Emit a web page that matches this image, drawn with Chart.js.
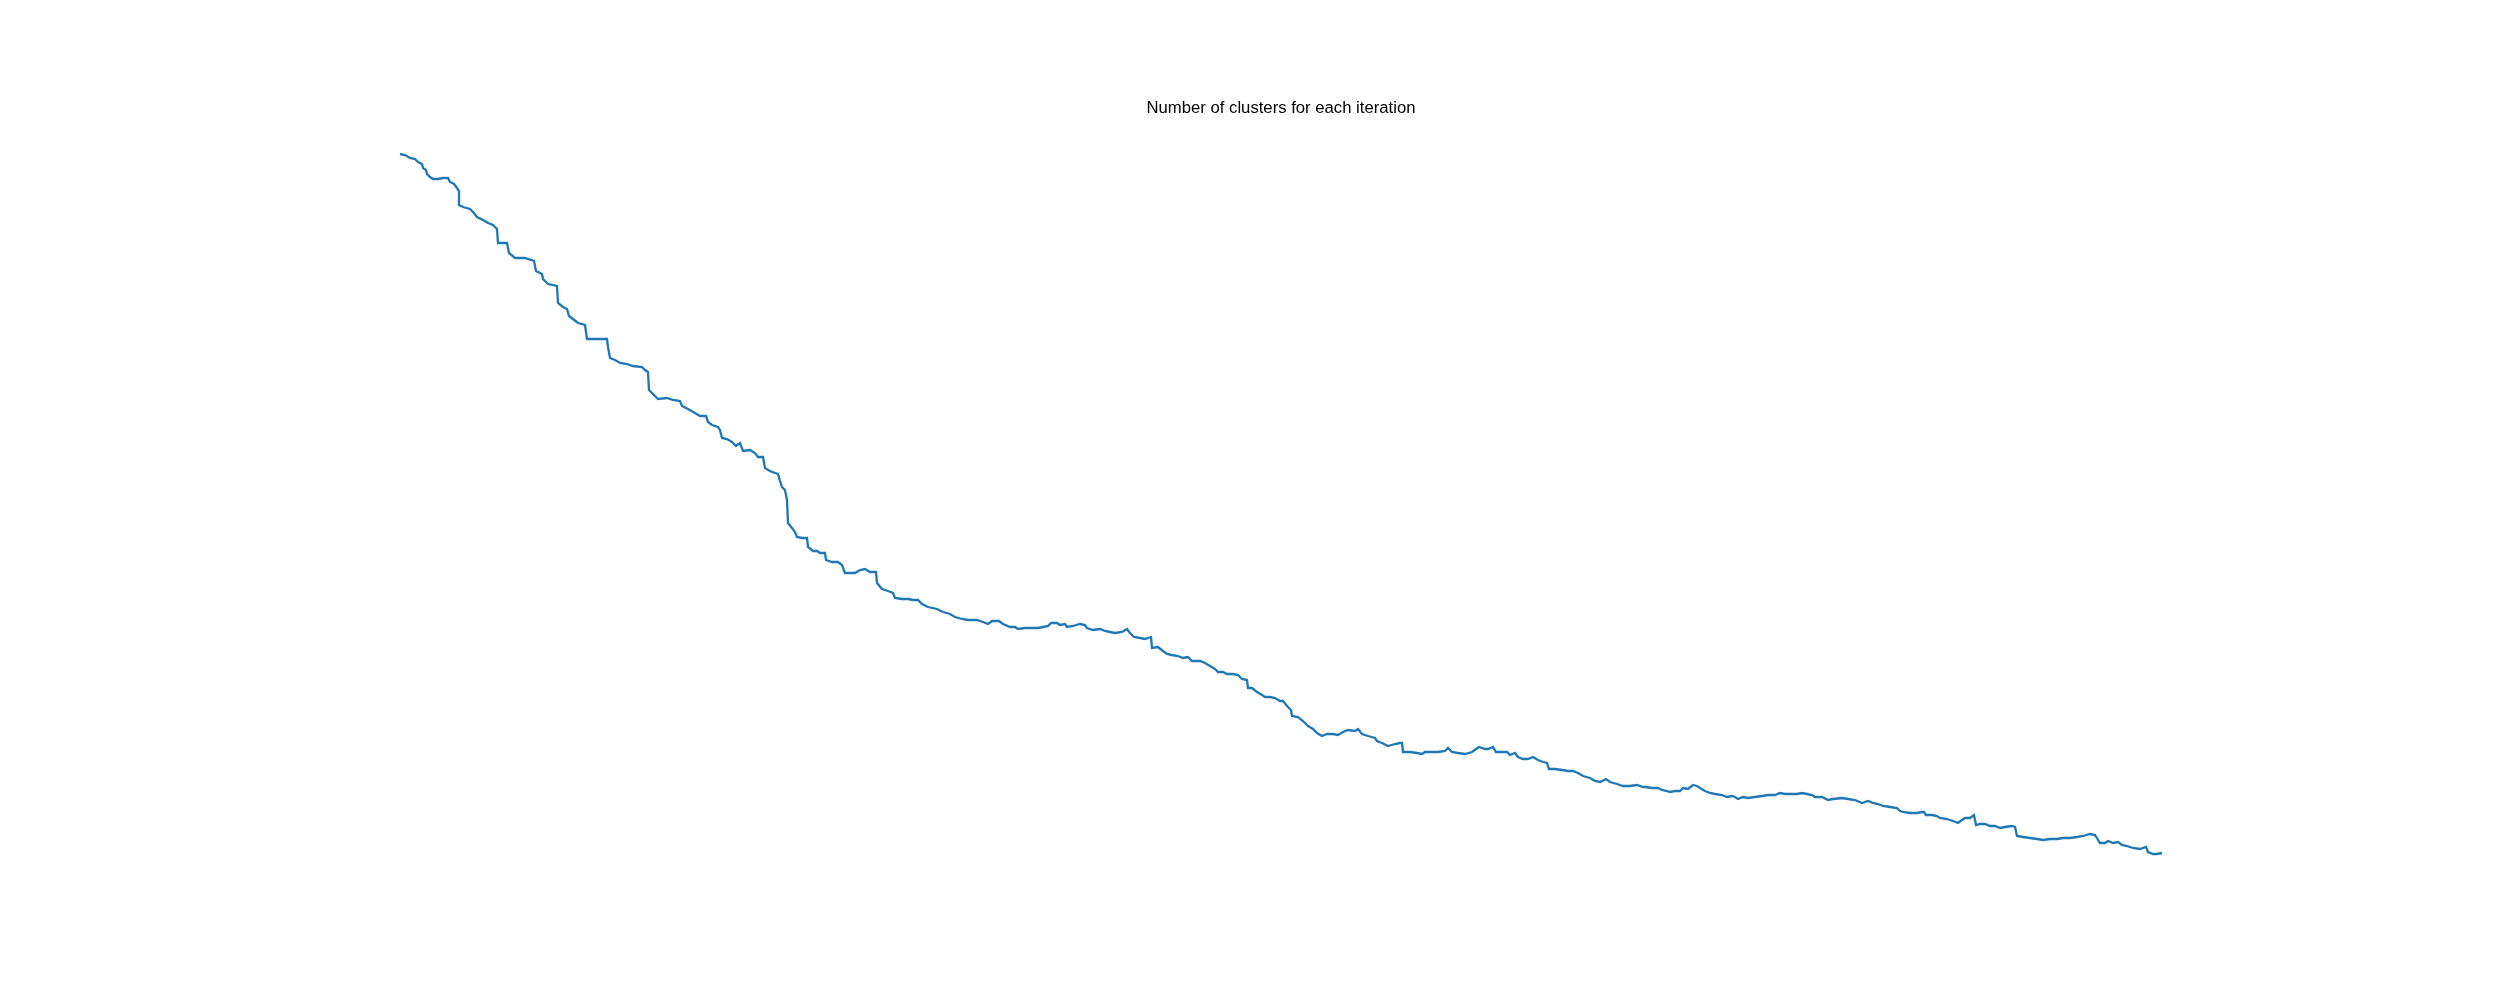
<!DOCTYPE html>
<html>
<head>
<meta charset="utf-8">
<script src="https://cdn.jsdelivr.net/npm/chart.js@4/dist/chart.umd.min.js"></script>
<style>
  html, body { margin: 0; padding: 0; background: #fff; }
  #wrap { width: 2500px; height: 1000px; }
</style>
</head>
<body>
<div id="wrap"><canvas id="c" width="2500" height="1000"></canvas></div>
<script>
const chartTitle = "Number of clusters for each iteration";

const iterations = [
  0,5,10,15,18,22,23,26,27,30,33,38,43,48,50,54,57,59,59,63,70,73,77,83,88,93,97,98,107,109,
  115,125,134,136,142,143,148,157,158,163,167,169,173,178,185,187,193,200,207,208,210,215,220,227,233,242,245,248,249,253,
  256,258,267,273,280,282,288,295,300,306,308,312,318,
  320,322,327,332,336,340,343,350,355,358,363,365,370,375,378,380,382,385,387,388,392,395,397,402,407,408,413,417,420,425,
  426,432,438,442,445,450,455,460,465,470,476,477,482,488,493,495,502,508,513,518,522,528,537,543,550,
  555,562,568,577,583,588,592,599,603,610,615,618,625,632,638,643,648,651,657,660,665,667,673,680,685,687,693,700,705,710,
  715,722,727,730,734,
  740,745,748,751,752,758,763,767,772,778,783,788,792,800,805,810,815,818,823,827,833,838,842,847,848,852,857,862,865,870,
  875,880,883,887,891,892,898,903,908,913,917,922,927,933,938,943,948,955,958,962,968,975,977,982,988,
  995,1000,1002,1003,1010,1017,1022,1025,1032,1038,1045,1048,1052,1058,1065,1072,1076,1079,1085,1088,1093,1096,1102,1107,1110,
  1115,1118,1123,1128,1133,1138,1143,1147,1149,1155,1162,1168,1173,1178,1183,1190,1195,1200,1206,1210,1217,1223,1230,1237,1243,
  1245,1252,1258,1262,1267,1270,1275,1280,1283,1288,1293,1297,1300,1305,1310,1315,1322,1327,1332,1335,1338,1343,1348,1355,1362,
  1368,1375,1380,1385,1392,1397,1402,1407,1412,1415,1422,1428,1433,1442,1448,1455,1462,1468,1473,1478,1483,1490,1497,
  1500,1503,1510,1517,1522,1524,1526,1532,1537,1540,1547,1553,1558,1562,1565,1570,1574,1576,1580,1585,1590,1595,1600,1605,1612,
  1615,1617,1623,1630,1637,1643,1650,1657,1663,1670,1677,1683,1690,1695,1697,1700,1705,1708,1713,1718,1722,1727,1733,1740,1746,
  1748,1753,1757,1762
];

const clusters = [
  846,845,842,841,838,836,832,830,826,823,821,821,822,822,818,816,812,809,795,793,791,788,783,780,777,775,771,757,757,747,
  742,742,739,729,726,721,716,714,697,693,691,684,681,677,675,661,661,661,661,653,642,640,637,636,634,633,630,628,610,606,
  603,601,602,600,599,594,591,587,584,584,578,575,573,
  570,562,561,558,554,557,549,550,547,543,543,532,529,527,526,519,513,510,500,477,472,468,463,462,462,453,449,449,447,447,
  440,438,438,435,427,427,427,430,431,428,428,417,411,409,407,402,401,401,400,400,396,393,391,388,386,
  383,381,380,380,378,376,379,379,376,373,373,371,372,372,372,373,374,377,377,375,376,373,374,376,375,372,370,371,369,368,
  367,368,371,367,363,
  362,361,362,363,352,353,349,346,345,344,342,343,339,339,337,334,331,328,328,326,326,325,321,320,312,312,308,305,303,303,
  302,299,299,294,290,284,283,279,274,271,267,264,266,266,265,268,270,269,271,266,264,262,259,257,254,
  256,257,257,248,248,247,246,248,248,248,249,252,248,247,246,248,251,253,251,251,253,248,248,248,245,
  247,243,241,241,243,240,238,237,231,231,230,229,229,227,224,222,219,218,221,218,216,214,214,215,213,
  213,212,212,210,209,208,209,209,212,211,215,214,212,209,207,206,205,203,204,203,201,203,202,203,204,
  205,205,207,206,206,206,207,206,205,203,203,200,201,202,201,200,197,199,197,196,194,193,192,
  189,188,187,187,188,188,185,185,184,182,181,179,177,180,182,182,185,175,176,176,174,174,172,173,174,
  173,164,163,162,161,160,161,161,162,162,163,164,166,165,162,157,157,159,157,158,155,154,152,151,153,
  148,146,146,147
];

const points = iterations.map((it, i) => ({ x: it, y: clusters[i] }));

new Chart(document.getElementById('c'), {
  type: 'line',
  data: {
    datasets: [{
      data: points,
      borderColor: '#1f77b4',
      borderWidth: 2.3,
      pointRadius: 0,
      tension: 0,
      fill: false
    }]
  },
  options: {
    responsive: false,
    animation: false,
    devicePixelRatio: 1,
    layout: { padding: { left: 62, right: 0, top: 0, bottom: 0 } },
    plugins: {
      legend: { display: false },
      tooltip: { enabled: false },
      title: {
        display: true,
        text: chartTitle,
        color: '#000',
        font: { family: "'Liberation Sans', Arial, sans-serif", size: 16.7, weight: 'normal', lineHeight: 1.2 },
        padding: { top: 98, bottom: 1.96 }
      }
    },
    scales: {
      x: { type: 'linear', display: false, min: -338, max: 2100 },
      y: { type: 'linear', display: false, min: 0, max: 880 }
    }
  }
});
</script>
</body>
</html>
